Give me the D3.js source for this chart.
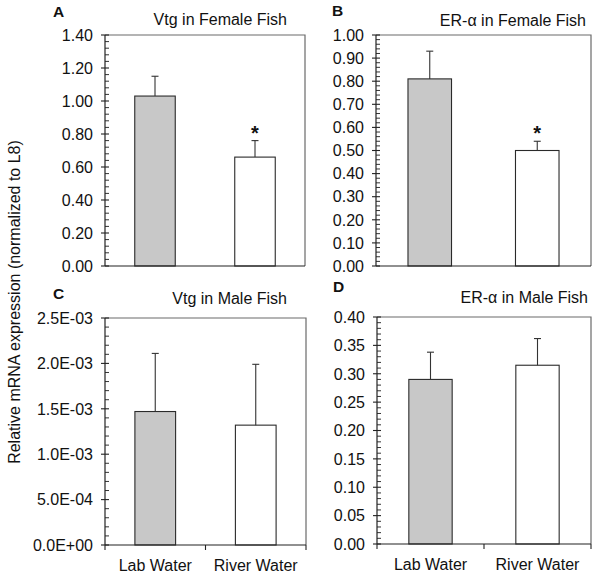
<!DOCTYPE html>
<html>
<head>
<meta charset="utf-8">
<script src="https://cdn.jsdelivr.net/npm/d3@7/dist/d3.min.js"></script>
<style>
  body { margin: 0; background: #fff; }
  svg { display: block; font-family: "Liberation Sans", Arial, sans-serif; }
</style>
</head>
<body>
<svg id="chart" width="600" height="574"></svg>
<script>
const categories = ['Lab Water', 'River Water'];

const vtgFemale = [1.03, 0.66];
const vtgFemaleErr = [0.12, 0.10];
const erFemale = [0.81, 0.50];
const erFemaleErr = [0.12, 0.04];
const vtgMale = [1.47e-3, 1.32e-3];
const vtgMaleErr = [0.64e-3, 0.67e-3];
const erMale = [0.29, 0.315];
const erMaleErr = [0.048, 0.047];

const femaleStars = [false, true];
const maleStars = [false, false];

const ticksVtgFemale = [0, 0.2, 0.4, 0.6, 0.8, 1.0, 1.2, 1.4];
const ticksErFemale = [0, 0.1, 0.2, 0.3, 0.4, 0.5, 0.6, 0.7, 0.8, 0.9, 1.0];
const ticksVtgMale = [0, 5e-4, 1e-3, 1.5e-3, 2e-3, 2.5e-3];
const ticksErMale = [0, 0.05, 0.1, 0.15, 0.2, 0.25, 0.3, 0.35, 0.4];

const barFills = ['#c8c8c8', '#ffffff'];
const svg = d3.select('#chart');

const fixed2 = d3.format('.2f');
function sci(v) {
  const [m, e] = v.toExponential(1).split('e');
  const sign = e[0] === '-' ? '-' : '+';
  const num = String(Math.abs(+e)).padStart(2, '0');
  return `${m}E${sign}${num}`;
}

function drawPanel(opts) {
  const { x0, x1, y0, y1, values, errs, stars, ticks, fmt, letter, letterPos, title, titlePos, showX } = opts;
  const g = svg.append('g');

  const x = d3.scaleBand().domain(categories).range([x0, x1]).padding(0);
  const y = d3.scaleLinear().domain([0, ticks[ticks.length - 1]]).range([y1, y0]);
  const barW = x.bandwidth() * 0.405;

  // frame top + right
  g.append('path')
    .attr('d', `M${x0},${y0}H${x1}V${y1}`)
    .attr('fill', 'none')
    .attr('stroke', '#6a6a6a')
    .attr('stroke-width', 1.2);

  // bars
  g.selectAll('rect.bar')
    .data(values)
    .join('rect')
    .attr('class', 'bar')
    .attr('x', (d, i) => x(categories[i]) + x.bandwidth() / 2 - barW / 2)
    .attr('y', (d) => y(d))
    .attr('width', barW)
    .attr('height', (d) => y(0) - y(d))
    .attr('fill', (d, i) => barFills[i])
    .attr('stroke', '#2a2a2a')
    .attr('stroke-width', 1.1);

  // error bars (upper only)
  values.forEach((v, i) => {
    const cx = x(categories[i]) + x.bandwidth() / 2;
    const top = y(v + errs[i]);
    g.append('line')
      .attr('x1', cx).attr('x2', cx)
      .attr('y1', y(v)).attr('y2', top)
      .attr('stroke', '#333').attr('stroke-width', 1.1);
    g.append('line')
      .attr('x1', cx - 3.5).attr('x2', cx + 3.5)
      .attr('y1', top).attr('y2', top)
      .attr('stroke', '#333').attr('stroke-width', 1.1);
    if (stars[i]) {
      g.append('text')
        .attr('x', cx)
        .attr('y', top - 1)
        .attr('text-anchor', 'middle')
        .attr('font-size', 20)
        .attr('font-weight', 'bold')
        .attr('fill', '#111')
        .text('*');
    }
  });

  // y axis: minor ticks inside
  const step = ticks[1] - ticks[0];
  const minor = [];
  for (let k = 0; k < ticks.length - 1; k++) {
    for (let m = 1; m < 5; m++) minor.push(ticks[k] + (step * m) / 5);
  }
  g.selectAll('line.minor')
    .data(minor)
    .join('line')
    .attr('class', 'minor')
    .attr('x1', x0).attr('x2', x0 + 4)
    .attr('y1', (d) => y(d)).attr('y2', (d) => y(d))
    .attr('stroke', '#333').attr('stroke-width', 1);

  g.selectAll('line.major')
    .data(ticks)
    .join('line')
    .attr('class', 'major')
    .attr('x1', x0 - 4).attr('x2', x0 + 4)
    .attr('y1', (d) => y(d)).attr('y2', (d) => y(d))
    .attr('stroke', '#222').attr('stroke-width', 1.1);

  g.selectAll('text.ytick')
    .data(ticks)
    .join('text')
    .attr('class', 'ytick')
    .attr('x', x0 - 12)
    .attr('y', (d) => y(d))
    .attr('dy', '0.36em')
    .attr('text-anchor', 'end')
    .attr('font-size', 16)
    .attr('fill', '#111')
    .text(fmt);

  // axis lines
  g.append('line')
    .attr('x1', x0).attr('x2', x0).attr('y1', y0).attr('y2', y1)
    .attr('stroke', '#222').attr('stroke-width', 1.2);
  g.append('line')
    .attr('x1', x0).attr('x2', x1).attr('y1', y1).attr('y2', y1)
    .attr('stroke', '#222').attr('stroke-width', 1.2);

  if (showX) {
    const edges = [x0, x0 + x.step(), x1];
    g.selectAll('line.xtick')
      .data(edges)
      .join('line')
      .attr('class', 'xtick')
      .attr('x1', (d) => d).attr('x2', (d) => d)
      .attr('y1', y1).attr('y2', y1 + 5)
      .attr('stroke', '#222').attr('stroke-width', 1.1);
    g.selectAll('text.xlab')
      .data(categories)
      .join('text')
      .attr('class', 'xlab')
      .attr('x', (d) => x(d) + x.bandwidth() / 2)
      .attr('y', y1 + 26)
      .attr('text-anchor', 'middle')
      .attr('font-size', 16)
      .attr('fill', '#111')
      .text((d) => d);
  }

  g.append('text')
    .attr('x', letterPos[0]).attr('y', letterPos[1])
    .attr('font-size', 15.5).attr('font-weight', 'bold').attr('fill', '#111')
    .text(letter);

  g.append('text')
    .attr('x', titlePos[0]).attr('y', titlePos[1])
    .attr('text-anchor', 'end')
    .attr('font-size', 16).attr('fill', '#111')
    .text(title);
}

drawPanel({
  x0: 105, x1: 305, y0: 35, y1: 266,
  values: vtgFemale, errs: vtgFemaleErr, stars: femaleStars,
  ticks: ticksVtgFemale, fmt: fixed2,
  letter: 'A', letterPos: [53, 17],
  title: 'Vtg in Female Fish', titlePos: [287, 25], showX: false,
});

drawPanel({
  x0: 376, x1: 591, y0: 35, y1: 266,
  values: erFemale, errs: erFemaleErr, stars: femaleStars,
  ticks: ticksErFemale, fmt: fixed2,
  letter: 'B', letterPos: [332, 16],
  title: 'ER-α in Female Fish', titlePos: [586, 26], showX: false,
});

drawPanel({
  x0: 105, x1: 306, y0: 318, y1: 545,
  values: vtgMale, errs: vtgMaleErr, stars: maleStars,
  ticks: ticksVtgMale, fmt: sci,
  letter: 'C', letterPos: [53, 299],
  title: 'Vtg in Male Fish', titlePos: [287, 304], showX: true,
});

drawPanel({
  x0: 377, x1: 591, y0: 317, y1: 544,
  values: erMale, errs: erMaleErr, stars: maleStars,
  ticks: ticksErMale, fmt: fixed2,
  letter: 'D', letterPos: [333, 292],
  title: 'ER-α in Male Fish', titlePos: [588, 303], showX: true,
});

svg.append('text')
  .attr('transform', 'translate(20,302) rotate(-90)')
  .attr('text-anchor', 'middle')
  .attr('font-size', 16)
  .attr('fill', '#111')
  .text('Relative mRNA expression (normalized to L8)');
</script>
</body>
</html>
